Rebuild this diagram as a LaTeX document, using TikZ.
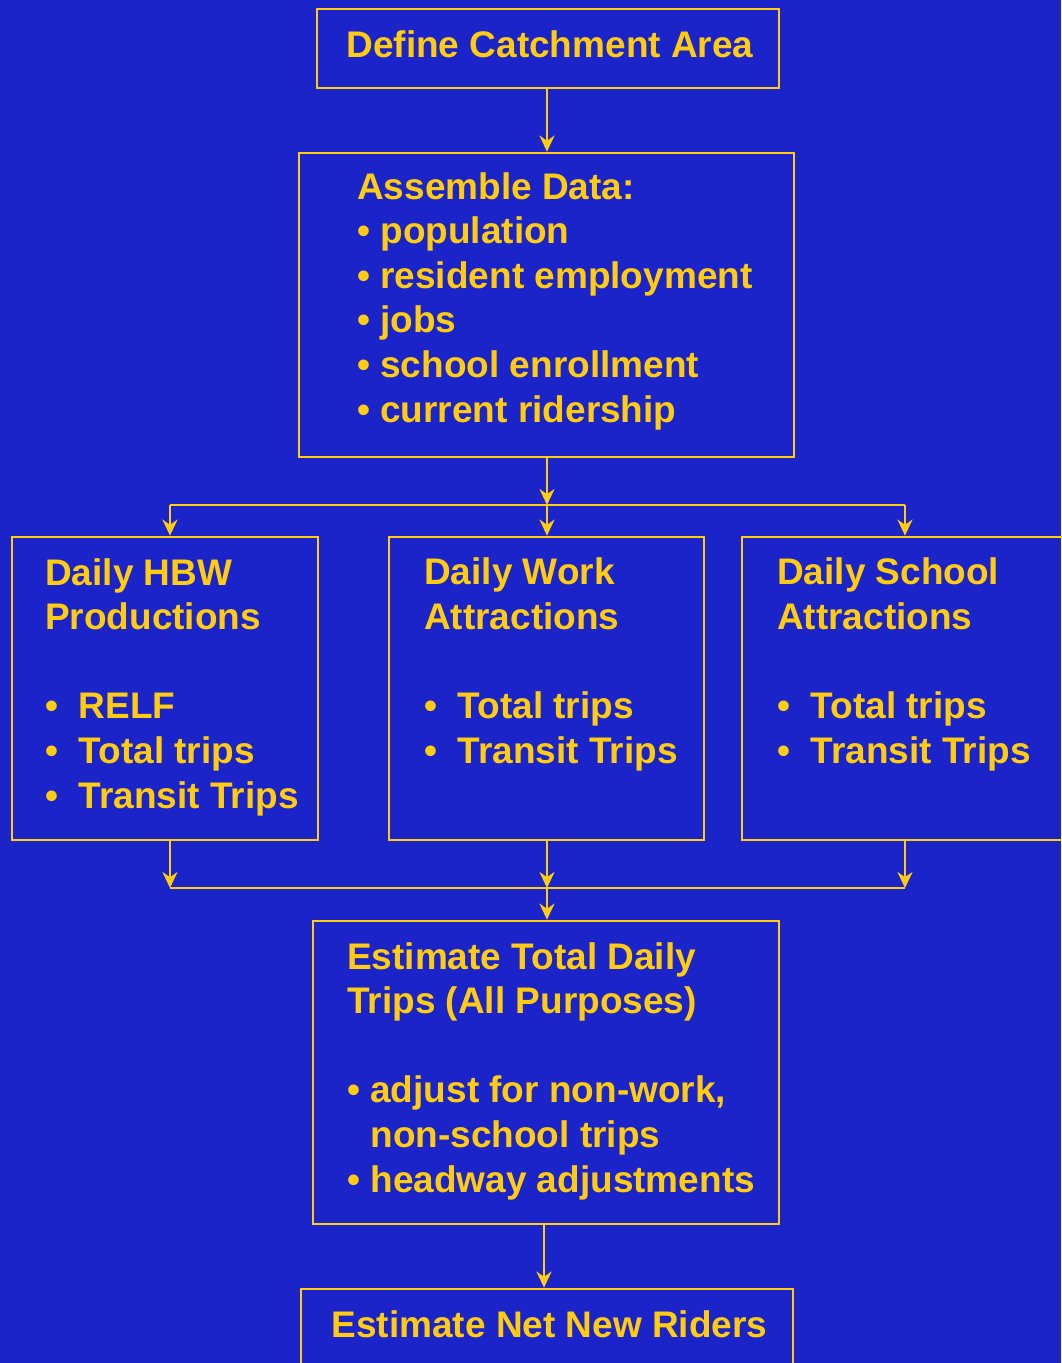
\documentclass[tikz,border=0pt]{standalone}
\usepackage{fontspec}
\setmainfont{Liberation Sans}
\usepackage{tikz}
\usetikzlibrary{arrows.meta,positioning}
\definecolor{Slide}{HTML}{1A24C9}
\definecolor{Gold}{HTML}{FFCC11}

\begin{document}
\begin{tikzpicture}[x=1pt,y=-1pt,>={Stealth[length=16pt,width=15pt]},
box/.style={draw=Gold,line width=2.8pt,inner sep=0pt},
txt/.style={text=Gold,inner sep=0pt,align=left,font=\bfseries\fontsize{37}{44.6}\selectfont},
arr/.style={->,line width=2.8pt,Gold},
lin/.style={line width=2.8pt,Gold}]
\useasboundingbox (0,0) rectangle (1061,1363);
\fill[Slide] (0,0) rectangle (1061,1363);
% boxes
\node[box,minimum width=462pt,minimum height=79pt] (area) at (548,48.5) {};
\node[box,minimum width=495pt,minimum height=304pt] (data) at (546.5,305) {};
\node[box,minimum width=306pt,minimum height=303pt] (hbw) at (165,688.5) {};
\node[box,minimum width=315pt,minimum height=303pt] (work) at (546.5,688.5) {};
\node[box,minimum width=326pt,minimum height=303pt] (school) at (905,688.5) {};
\node[box,minimum width=466pt,minimum height=303pt] (total) at (546,1072.5) {};
\node[box,minimum width=492pt,minimum height=120pt] (riders) at (547,1349) {};
% texts (base = last line)
\node[txt,anchor=base] (areat) at (550,57) {Define Catchment Area};
\node[txt,anchor=base west] (datat) at (357,422) {Assemble Data:\\ \textbullet\ population\\ \textbullet\ resident employment\\ \textbullet\ jobs\\ \textbullet\ school enrollment\\ \textbullet\ current ridership};
\node[txt,anchor=base west] (hbwt) at (45,808) {Daily HBW\\ Productions\\[44.6pt] \textbullet\ \ RELF\\ \textbullet\ \ Total trips\\ \textbullet\ \ Transit Trips};
\node[txt,anchor=base west] (workt) at (424,763) {Daily Work\\ Attractions\\[44.6pt] \textbullet\ \ Total trips\\ \textbullet\ \ Transit Trips};
\node[txt,anchor=base west] (schoolt) at (777,763) {Daily School\\ Attractions\\[44.6pt] \textbullet\ \ Total trips\\ \textbullet\ \ Transit Trips};
\node[txt,anchor=base west] (totalt) at (347,1192) {Estimate Total Daily\\ Trips (All Purposes)\\[44.6pt] \textbullet\ adjust for non-work,\\ \phantom{\textbullet\ }non-school trips\\ \textbullet\ headway adjustments};
\node[txt,anchor=base] (riderst) at (549.5,1337) {Estimate Net New Riders};
% junctions
\coordinate (split) at (547,505);
\coordinate (sl) at (170,505);
\coordinate (sr) at (905,505);
\coordinate (merge) at (547,888);
\coordinate (ml) at (170,888);
\coordinate (mr) at (905,888);
\coordinate (down) at (544,1224);
\draw[arr] (area.south -| split) -- (data.north -| split);
\draw[arr] (data.south -| split) -- (split);
\draw[lin] (sl) -- (sr);
\foreach \u/\v in {sl/hbw,split/work,sr/school}{\draw[arr] (\u) -- (\v.north -| \u);}
\foreach \u/\v in {hbw/ml,work/merge,school/mr}{\draw[arr] (\u.south -| \v) -- (\v);}
\draw[lin] (ml) -- (mr);
\draw[arr] (merge) -- (total.north -| merge);
\draw[arr] (down) -- (riders.north -| down);
\end{tikzpicture}
\end{document}
